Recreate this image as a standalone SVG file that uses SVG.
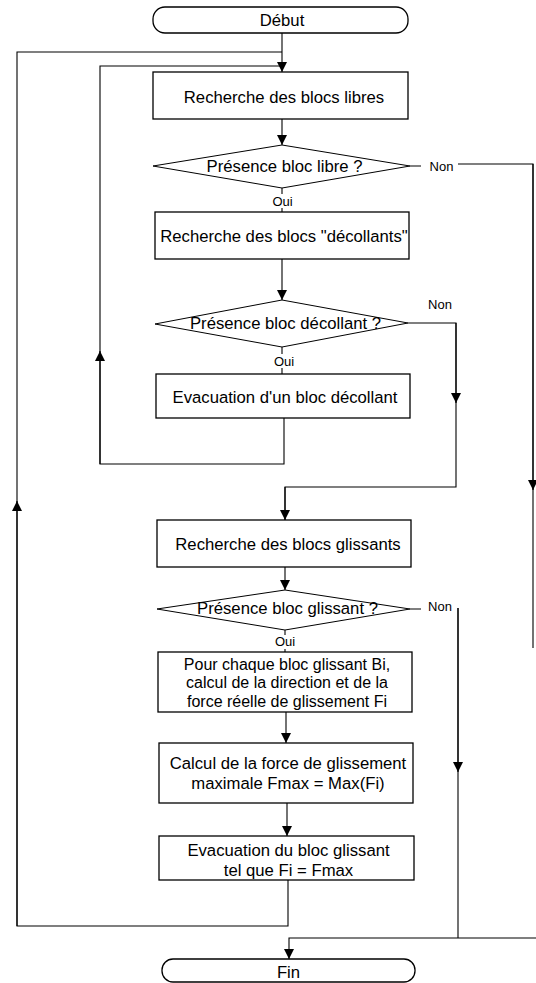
<svg xmlns="http://www.w3.org/2000/svg" width="536" height="983" viewBox="0 0 536 983">
<style>
.n{fill:#fff;stroke:#000;stroke-width:1.3}
.t{font-family:"Liberation Sans",Arial,sans-serif;font-size:16.7px;fill:#000;text-anchor:middle}
.s{font-size:16px}
.l{font-family:"Liberation Sans",Arial,sans-serif;font-size:13px;fill:#000;text-anchor:middle}
.c{fill:none;stroke:#000;stroke-width:1.1}
</style>
<defs>
<marker id="a" viewBox="0 0 10 10" refX="10" refY="5" markerWidth="10" markerHeight="10" markerUnits="userSpaceOnUse" orient="auto">
<path d="M0,0 L10,5 L0,10 z" fill="#000"/>
</marker>
</defs>
<rect width="536" height="983" fill="#fff"/>
<g id="connectors">
<path class="c" d="M282,33 V72" marker-end="url(#a)"/>
<path class="c" d="M282,119 V145" marker-end="url(#a)"/>
<path class="c" d="M282,188 V212"/>
<path class="c" d="M410,166 H421 M458,164 H533 V648"/>
<path class="c" d="M533,164 V490" marker-end="url(#a)"/>
<path class="c" d="M282,259 V300" marker-end="url(#a)"/>
<path class="c" d="M408,323 H456 V487 H285 V520"/>
<path class="c" d="M456,323 V403" marker-end="url(#a)"/>
<path class="c" d="M285,487 V520" marker-end="url(#a)"/>
<path class="c" d="M282,347 V374"/>
<path class="c" d="M284,418 V464 H100 V66 H282"/>
<path class="c" d="M100,464 V351" marker-end="url(#a)"/>
<path class="c" d="M285,567 V590" marker-end="url(#a)"/>
<path class="c" d="M410,609 H421 M458,608 V938"/>
<path class="c" d="M458,608 V772" marker-end="url(#a)"/>
<path class="c" d="M285,630 V652"/>
<path class="c" d="M286,712 V743" marker-end="url(#a)"/>
<path class="c" d="M287,803 V836" marker-end="url(#a)"/>
<path class="c" d="M288,880 V926 H17 V52 H282"/>
<path class="c" d="M17,926 V501" marker-end="url(#a)"/>
<path class="c" d="M536,938 H289 V959" marker-end="url(#a)"/>
<rect x="270" y="194" width="26" height="14" fill="#fff"/>
<text class="l" x="282.5" y="206">Oui</text>
<text class="l" x="441.5" y="171">Non</text>
<text class="l" x="440" y="308.5">Non</text>
<rect x="272" y="354" width="26" height="14" fill="#fff"/>
<text class="l" x="284" y="365.5">Oui</text>
<text class="l" x="440" y="611">Non</text>
<rect x="272" y="635" width="26" height="14" fill="#fff"/>
<text class="l" x="285" y="646">Oui</text>
</g>
<g id="debut">
<rect class="n" x="153" y="7" width="255" height="26" rx="12"/>
<text class="t" x="282" y="26">Début</text>
</g>
<g id="recherche-libres">
<rect class="n" x="153" y="72" width="255" height="47"/>
<text class="t" x="284" y="103">Recherche des blocs libres</text>
</g>
<g id="presence-libre">
<polygon class="n" points="153,166 282,145 410,166 282,188" style="stroke-width:1"/>
<text class="t" x="284.5" y="172">Présence bloc libre ?</text>
</g>
<g id="recherche-decollants">
<rect class="n" x="155" y="212" width="254" height="47"/>
<text class="t" x="284" y="242">Recherche des blocs "décollants"</text>
</g>
<g id="presence-decollant">
<polygon class="n" points="155,324 282,300 408,323 282,347" style="stroke-width:1"/>
<text class="t" x="285.5" y="329">Présence bloc décollant ?</text>
</g>
<g id="evacuation-decollant">
<rect class="n" x="156" y="374" width="254" height="44"/>
<text class="t" x="285" y="403">Evacuation d'un bloc décollant</text>
</g>
<g id="recherche-glissants">
<rect class="n" x="157" y="520" width="254" height="47"/>
<text class="t" x="288" y="549.5">Recherche des blocs glissants</text>
</g>
<g id="presence-glissant">
<polygon class="n" points="157,609 285,590 410,609 285,630" style="stroke-width:1"/>
<text class="t" x="287.5" y="614">Présence bloc glissant ?</text>
</g>
<g id="calcul-direction">
<rect class="n" x="158" y="652" width="254" height="60"/>
<text class="t s" x="287" y="669.5">Pour chaque bloc glissant Bi,</text>
<text class="t s" x="287" y="688">calcul de la direction et de la</text>
<text class="t s" x="287" y="706.5">force réelle de glissement Fi</text>
</g>
<g id="calcul-fmax">
<rect class="n" x="159" y="743" width="254" height="60"/>
<text class="t" x="288" y="769">Calcul de la force de glissement</text>
<text class="t" x="288" y="789">maximale Fmax = Max(Fi)</text>
</g>
<g id="evacuation-glissant">
<rect class="n" x="159" y="836" width="255" height="44"/>
<text class="t" x="288.5" y="856">Evacuation du bloc glissant</text>
<text class="t" x="288.5" y="876">tel que Fi = Fmax</text>
</g>
<g id="fin">
<rect class="n" x="162" y="959" width="253" height="23" rx="11"/>
<text class="t" x="288.5" y="978">Fin</text>
</g>
</svg>
